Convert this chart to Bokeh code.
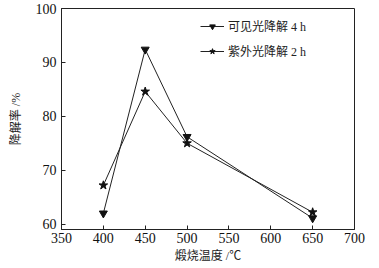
from bokeh.plotting import figure
from bokeh.models import Legend, LegendItem, FixedTicker, Range1d
from bokeh.embed import file_html
from bokeh.resources import INLINE

temps = [400, 450, 500, 650]
visible_4h = [62.0, 92.4, 76.2, 61.1]
uv_2h = [67.2, 84.6, 75.0, 62.2]
label_vis = "可见光降解 4 h"
label_uv = "紫外光降解 2 h"
x_ticks = [350, 400, 450, 500, 550, 600, 650, 700]
y_ticks = [60, 70, 80, 90, 100]

SERIF = "'Liberation Serif', 'Noto Sans CJK SC'"

p = figure(width=379, height=268, output_backend="svg", toolbar_location=None,
           x_range=Range1d(350, 700), y_range=Range1d(59, 100),
           min_border_left=61, min_border_right=25, min_border_top=8, min_border_bottom=39)
p.background_fill_color = "white"
p.border_fill_color = "white"
p.outline_line_color = "#222222"
p.outline_line_width = 1
p.grid.visible = False

for ax in (p.xaxis[0], p.yaxis[0]):
    ax.major_tick_in = 4
    ax.major_tick_out = 0
    ax.minor_tick_line_color = None
    ax.axis_line_color = "#222222"
    ax.major_tick_line_color = "#222222"
    ax.major_label_text_font = SERIF
    ax.major_label_text_font_size = "14px"
    ax.major_label_text_color = "#111111"
    ax.axis_label_text_font = SERIF
    ax.axis_label_text_font_size = "12px"
    ax.axis_label_text_font_style = "normal"
    ax.axis_label_text_color = "#222222"

p.xaxis.ticker = FixedTicker(ticks=x_ticks)
p.yaxis.ticker = FixedTicker(ticks=y_ticks)
p.xaxis.axis_label = "煅烧温度 /℃"
p.yaxis.axis_label = "降解率 /%"
p.xaxis.major_label_standoff = 3
p.yaxis.major_label_standoff = 5
p.xaxis.axis_label_standoff = 3
p.yaxis.axis_label_standoff = 10

l1 = p.line(temps, visible_4h, line_color="#222222", line_width=1)
s1 = p.scatter(temps, visible_4h, marker="inverted_triangle", size=8,
               fill_color="#111111", line_color="#111111")
l2 = p.line(temps, uv_2h, line_color="#222222", line_width=1)
s2 = p.scatter(temps, uv_2h, marker="star", size=9,
               fill_color="#111111", line_color="#111111")

legend = Legend(items=[LegendItem(label=label_vis, renderers=[l1, s1]),
                       LegendItem(label=label_uv, renderers=[l2, s2])],
                location=(139, 169))
legend.border_line_alpha = 0
legend.background_fill_alpha = 0
legend.padding = 0
legend.margin = 0
legend.spacing = 7
legend.glyph_width = 24
legend.glyph_height = 14
legend.label_height = 14
legend.label_standoff = 4
legend.label_text_font = SERIF
legend.label_text_font_size = "12px"
legend.label_text_color = "#222222"
p.add_layout(legend, "center")

open("out.html", "w").write(file_html(p, INLINE))
